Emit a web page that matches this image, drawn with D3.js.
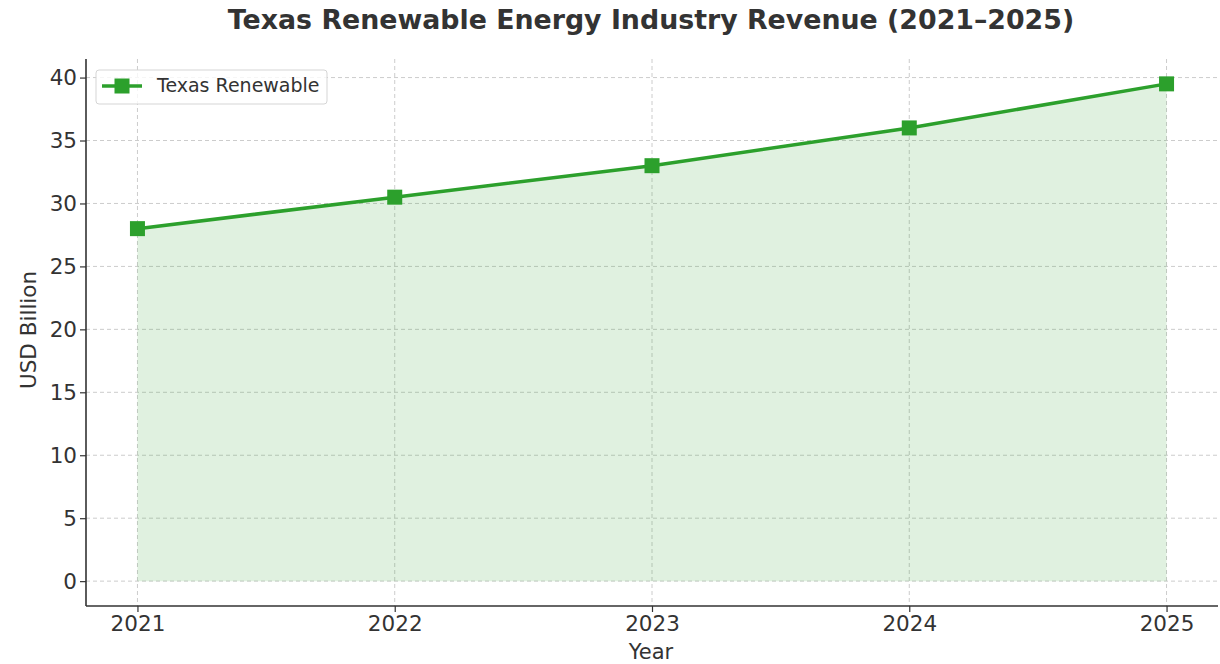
<!DOCTYPE html>
<html><head><meta charset="utf-8">
<script src="https://cdn.jsdelivr.net/npm/d3@7"></script>
<style>body{margin:0;background:#fff;} svg{display:block;}</style>
</head><body>
<svg id="c" width="1220" height="664"></svg>
<script>
const years = [2021, 2022, 2023, 2024, 2025];
const revenue = [28, 30.5, 33, 36, 39.5];
const yTicks = [0, 5, 10, 15, 20, 25, 30, 35, 40];
const seriesName = "Texas Renewable";
const title = "Texas Renewable Energy Industry Revenue (2021–2025)";

(function(){
const svg = d3.select("#c");
const pL = 86, pR = 1218, pT = 59, pB = 606;
const x = d3.scaleLinear().domain([2020.8, 2025.2]).range([pL, pR]);
const y = d3.scaleLinear().domain([-1.975, 41.475]).range([pB, pT]);
const font = "DejaVu Sans, sans-serif";
const txt = "#333333";
const green = "#2ca02c";

const g = svg.append("g");
g.selectAll(".hg").data(yTicks).enter().append("line")
  .attr("x1", pL).attr("x2", pR).attr("y1", d => y(d)).attr("y2", d => y(d))
  .attr("stroke", "#cccccc").attr("stroke-width", 1).attr("stroke-dasharray", "4,3");
g.selectAll(".vg").data(years).enter().append("line")
  .attr("x1", d => x(d)).attr("x2", d => x(d)).attr("y1", pT).attr("y2", pB)
  .attr("stroke", "#cccccc").attr("stroke-width", 1).attr("stroke-dasharray", "4,3");

const data = years.map((yr, i) => ({yr, v: revenue[i]}));
svg.append("path").datum(data)
  .attr("d", d3.area().x(d => x(d.yr)).y0(y(0)).y1(d => y(d.v)))
  .attr("fill", green).attr("fill-opacity", 0.15);
svg.append("path").datum(data)
  .attr("d", d3.line().x(d => x(d.yr)).y(d => y(d.v)))
  .attr("fill", "none").attr("stroke", green).attr("stroke-width", 3.5);
const ms = 15;
svg.selectAll(".m").data(data).enter().append("rect")
  .attr("x", d => x(d.yr) - ms/2).attr("y", d => y(d.v) - ms/2)
  .attr("width", ms).attr("height", ms).attr("fill", green);

const xAxis = d3.axisBottom(x).tickValues(years).tickFormat(d3.format("d")).tickSize(6).tickPadding(4);
const yAxis = d3.axisLeft(y).tickValues(yTicks).tickSize(6).tickPadding(3);
const xg = svg.append("g").attr("transform", `translate(0,${pB})`).call(xAxis);
const yg = svg.append("g").attr("transform", `translate(${pL},0)`).call(yAxis);
[xg, yg].forEach(a => {
  a.select(".domain").attr("stroke", txt).attr("stroke-width", 1.6);
  a.selectAll(".tick line").attr("stroke", txt).attr("stroke-width", 1.2);
  a.selectAll(".tick text").attr("fill", txt).style("font-family", font).style("font-size", "21.5px");
});
xg.select(".domain").attr("d", `M${pL},0H${pR}`);
yg.select(".domain").attr("d", `M0,${pT}V${pB}`);

svg.append("text").attr("x", 651).attr("y", 29).attr("text-anchor", "middle")
  .style("font-family", font).style("font-size", "26.8px").style("font-weight", "bold")
  .attr("fill", txt).text(title);
svg.append("text").attr("x", 651).attr("y", 659).attr("text-anchor", "middle")
  .style("font-family", font).style("font-size", "21px").attr("fill", txt).text("Year");
svg.append("text").attr("transform", `translate(36,330) rotate(-90)`).attr("text-anchor", "middle")
  .style("font-family", font).style("font-size", "21.5px").attr("fill", txt).text("USD Billion");

const lg = svg.append("g");
lg.append("rect").attr("x", 96).attr("y", 70).attr("width", 231).attr("height", 34).attr("rx", 3)
  .attr("fill", "#ffffff").attr("fill-opacity", 0.8).attr("stroke", "#d5d5d5").attr("stroke-width", 1);
lg.append("line").attr("x1", 102).attr("x2", 142).attr("y1", 86).attr("y2", 86)
  .attr("stroke", green).attr("stroke-width", 3.5);
lg.append("rect").attr("x", 122 - ms/2).attr("y", 86 - ms/2).attr("width", ms).attr("height", ms).attr("fill", green);
lg.append("text").attr("x", 157).attr("y", 92).style("font-family", font).style("font-size", "19px")
  .attr("fill", txt).text(seriesName);
})();
</script>
</body></html>
